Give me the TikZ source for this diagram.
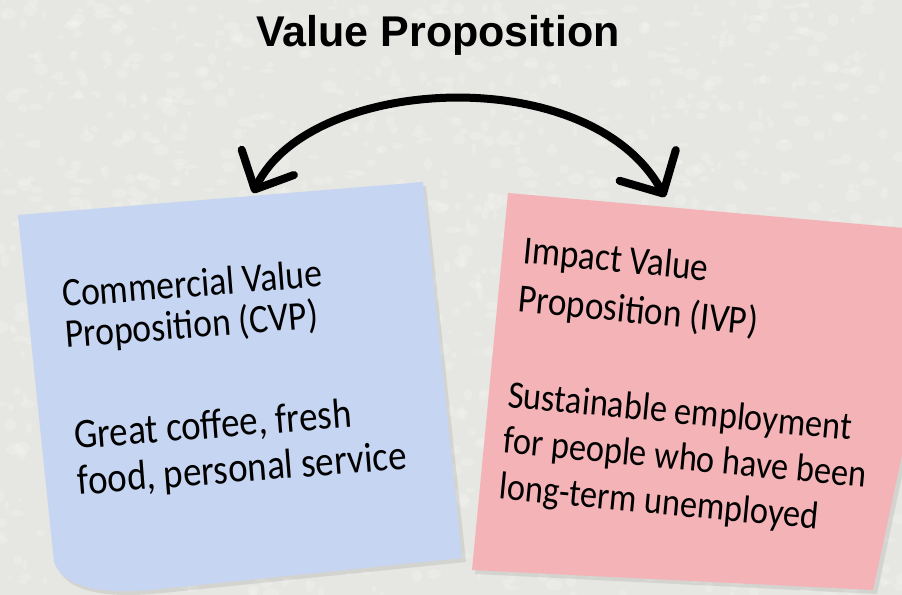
\documentclass[tikz,border=0pt]{standalone}
\usepackage{fontspec}
\setmainfont{Carlito}
\newfontfamily\handfont[FakeStretch=0.88]{Carlito}
\newfontfamily\titlefont{Liberation Sans}
\usetikzlibrary{arrows.meta}
\definecolor{bgc}{HTML}{E6E6E2}
\definecolor{bluenote}{HTML}{C6D5F1}
\definecolor{pinknote}{HTML}{F4B4B7}
\newcommand\handlines[2]{\fontsize{#1}{#2}\selectfont\lineskiplimit=-200bp\spaceskip=0pt\xspaceskip=0pt\relax}
\begin{document}
\begin{tikzpicture}[x=1bp,y=-1bp,
  hand/.style={font=\handfont, inner sep=0pt, anchor=base west, align=left, text=black},
  bluehand/.style={hand, rotate=4.5, text width=335bp},
  pinkhand/.style={hand, rotate=-5.5, text width=385bp},
  noteshadow/.style={fill=black, opacity=0.08},
  vparrow/.style={line width=8bp, line cap=round, line join=round,
    {Straight Barb[length=30bp,width=58bp,round]}-{Straight Barb[length=32bp,width=64bp,round]}}]
\useasboundingbox (0,0) rectangle (902,595);
\begin{scope}
\clip (0,0) rectangle (902,595);
\fill[bgc] (0,0) rectangle (902,595);
\pgfmathsetseed{17}
\foreach \i in {1,...,1500} {
  \pgfmathsetmacro\xx{random(0,902)}
  \pgfmathsetmacro\yy{random(0,595)}
  \pgfmathsetmacro\ra{random(2,8)}
  \pgfmathsetmacro\rb{random(2,6)}
  \fill[white, opacity=0.16] (\xx,\yy) ellipse ({\ra} and {\rb});
}
% shadows
\fill[noteshadow] (21,219) -- (426,186) -- (466,562) -- (153,594) .. controls (98,598) and (66,590) .. (57,566) -- cycle;
\fill[noteshadow] (511,197) -- (953,236) -- (877,594) -- (475,574) -- cycle;
% blue note
\fill[bluenote] (18,215) -- (423,182) -- (462,558) -- (150,590) .. controls (95,594) and (63,586) .. (54,562) -- cycle;
% pink note
\fill[pinknote] (508,193) -- (950,232) -- (873,590) -- (472,570) -- cycle;
\end{scope}
% title
\node[font=\titlefont\bfseries\fontsize{43bp}{48bp}\selectfont, inner sep=0pt, anchor=base] (title) at (438,47) {Value Proposition};
% text on the notes
\node[bluehand] (cvphead) at (63,307) {\handlines{40.5bp}{41bp}Commercial Value\\Proposition (CVP)\par};
\node[bluehand] (cvpbody) at (75,449) {\handlines{42bp}{46bp}Great coffee, fresh\\food, personal service\par};
\node[pinkhand] (ivphead) at (522,263) {\handlines{40bp}{49bp}Impact Value\\Proposition (IVP)\par};
\node[pinkhand] (ivpbody) at (507,407) {\handlines{39bp}{46bp}Sustainable employment\\for people who have been\\long-term unemployed\par};
% arrow
\coordinate (cvptip) at (253,193);
\coordinate (ivptip) at (665,197);
\draw[vparrow] (cvptip) .. controls (310,75) and (590,60) .. (ivptip);
\end{tikzpicture}
\end{document}
